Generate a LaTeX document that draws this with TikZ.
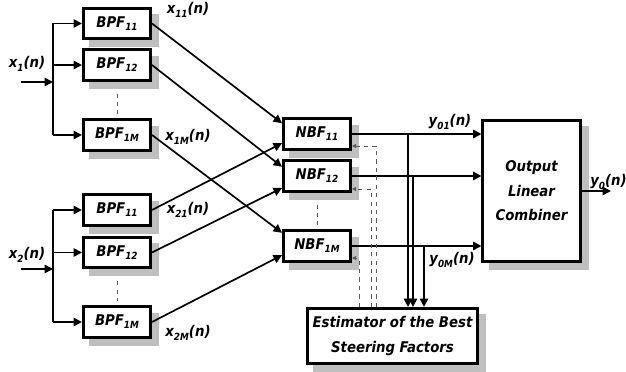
\documentclass[tikz,border=0pt]{standalone}
\usepackage{fontspec}
\setmainfont{DejaVuSansCondensed}[
    Extension=.ttf,
    UprightFont=*,
    BoldFont=*-Bold,
    ItalicFont=*-Oblique,
    BoldItalicFont=*-BoldOblique]
\usetikzlibrary{arrows.meta,backgrounds}
\newcommand{\fw}{1.68cm}
\newcommand{\fh}{0.76cm}
\newcommand{\sd}{0.18cm}
\newcommand{\lo}[1]{\raisebox{-0.4ex}{\fontsize{7}{7}\selectfont #1}}
\tikzset{
    fblock/.style = {
        draw, fill=white, rectangle, align=center,
        line width=2pt,
        inner sep=0,
        minimum width={\fw},
        minimum height={\fh},
        font=\bfseries\itshape\fontsize{10.5}{17.5}\selectfont
    },
    shade box/.style = {fill=black!25},
    sig/.style  = {inner sep=0, font=\bfseries\itshape\fontsize{10.5}{12}\selectfont},
    wire/.style = {line width=1.2pt},
    arr/.style  = {wire, -{Triangle[length=6pt,width=6pt]}},
    ctl/.style  = {dashed, black!65, line width=0.6pt, -{Triangle[length=3pt,width=3pt]}},
    gap/.style  = {dashed, black!65, line width=0.6pt, shorten <=0.3cm, shorten >=0.12cm}
}
\begin{document}
\begin{tikzpicture}[x=0.025cm, y=-0.025cm]
\useasboundingbox (0,0) rectangle (626,372);

\node[fblock] (BPFa1) at (117,23.5) {BPF\lo{11}};
\node[fblock] (BPFa2) at (117,65)   {BPF\lo{12}};
\node[fblock] (BPFaM) at (117,135)  {BPF\lo{1M}};
\node[fblock] (BPFb1) at (117,210)  {BPF\lo{11}};
\node[fblock] (BPFb2) at (117,252.5){BPF\lo{12}};
\node[fblock] (BPFbM) at (117,322)  {BPF\lo{1M}};

\node[fblock] (NBF1) at (317,134) {NBF\lo{11}};
\node[fblock] (NBF2) at (317,176) {NBF\lo{12}};
\node[fblock] (NBFM) at (317,246) {NBF\lo{1M}};

\node[fblock, minimum width=2.43cm, minimum height=3.53cm] (OLC) at (531.5,191) {Output\\Linear\\Combiner};
\node[fblock, minimum width=4.25cm, minimum height=1.38cm] (Est) at (392.5,336) {Estimator of the Best\\Steering Factors};

% grey shadows behind every block
\begin{scope}[on background layer]
\foreach \b in {BPFa1,BPFa2,BPFaM,BPFb1,BPFb2,BPFbM,NBF1,NBF2,NBFM,OLC,Est}
    \fill[shade box] ([xshift=\sd,yshift=-\sd]\b.south west) rectangle ([xshift=\sd,yshift=-\sd]\b.north east);
\end{scope}

% inputs and splitting buses
\coordinate (ina)  at (21,82);
\coordinate (busa) at (53,82);
\coordinate (inb)  at (21,269);
\coordinate (busb) at (53,269);
\draw[arr] (ina) -- (busa);
\draw[arr] (inb) -- (busb);
\draw[wire] (BPFa1.west -| busa) -- (BPFaM.west -| busa);
\draw[wire] (BPFb1.west -| busb) -- (BPFbM.west -| busb);
\foreach \b in {BPFa1,BPFa2,BPFaM} \draw[arr] (\b.west -| busa) -- (\b.west);
\foreach \b in {BPFb1,BPFb2,BPFbM} \draw[arr] (\b.west -| busb) -- (\b.west);
\node[sig] (xa) at (27,64)  {x\lo{1}(n)};
\node[sig] (xb) at (27,255) {x\lo{2}(n)};

\draw[gap] (BPFa2.south) -- (BPFaM.north);
\draw[gap] (BPFb2.south) -- (BPFbM.north);
\draw[gap] (NBF2.south) -- (NBFM.north);

% filter outputs to the beamformers
\draw[arr] (BPFa1.east) -- ([yshift=0.27cm]NBF1.west);
\draw[arr] (BPFb1.east) -- ([yshift=-0.23cm]NBF1.west);
\draw[arr] (BPFa2.east) -- ([yshift=0.23cm]NBF2.west);
\draw[arr] (BPFb2.east) -- ([yshift=-0.3cm]NBF2.west);
\draw[arr] (BPFaM.east) -- ([yshift=0.33cm]NBFM.west);
\draw[arr] (BPFbM.east) -- ([yshift=-0.23cm]NBFM.west);
\node[sig] (x11) at (188,10)  {x\lo{11}(n)};
\node[sig] (x1M) at (188,137) {x\lo{1M}(n)};
\node[sig] (x21) at (188,210) {x\lo{21}(n)};
\node[sig] (x2M) at (188,333) {x\lo{2M}(n)};

% beamformer outputs
\foreach \n in {NBF1,NBF2,NBFM} \draw[arr] (\n.east) -- (\n.east -| OLC.west);
\coordinate (T1) at (408,134);
\coordinate (T2) at (413,176);
\coordinate (TM) at (424,246);
\foreach \t in {T1,T2,TM} \draw[arr] (\t) -- (\t |- Est.north);
\node[sig] (y01) at (450,122) {y\lo{01}(n)};
\node[sig] (y0M) at (452,260) {y\lo{0M}(n)};

% steering factors fed back
\coordinate (F1) at (376,146);
\coordinate (F2) at (371,189);
\coordinate (FM) at (359,258);
\draw[ctl] (F1 |- Est.north) -- (F1) -- (F1 -| NBF1.east);
\draw[ctl] (F2 |- Est.north) -- (F2) -- (F2 -| NBF2.east);
\draw[ctl] (FM |- Est.north) -- (FM) -- (FM -| NBFM.east);

\coordinate (out) at (611,191);
\draw[arr] (OLC.east) -- (out);
\node[sig, anchor=west] (y0) at (590,182) {y\lo{0}(n)};

\end{tikzpicture}
\end{document}
